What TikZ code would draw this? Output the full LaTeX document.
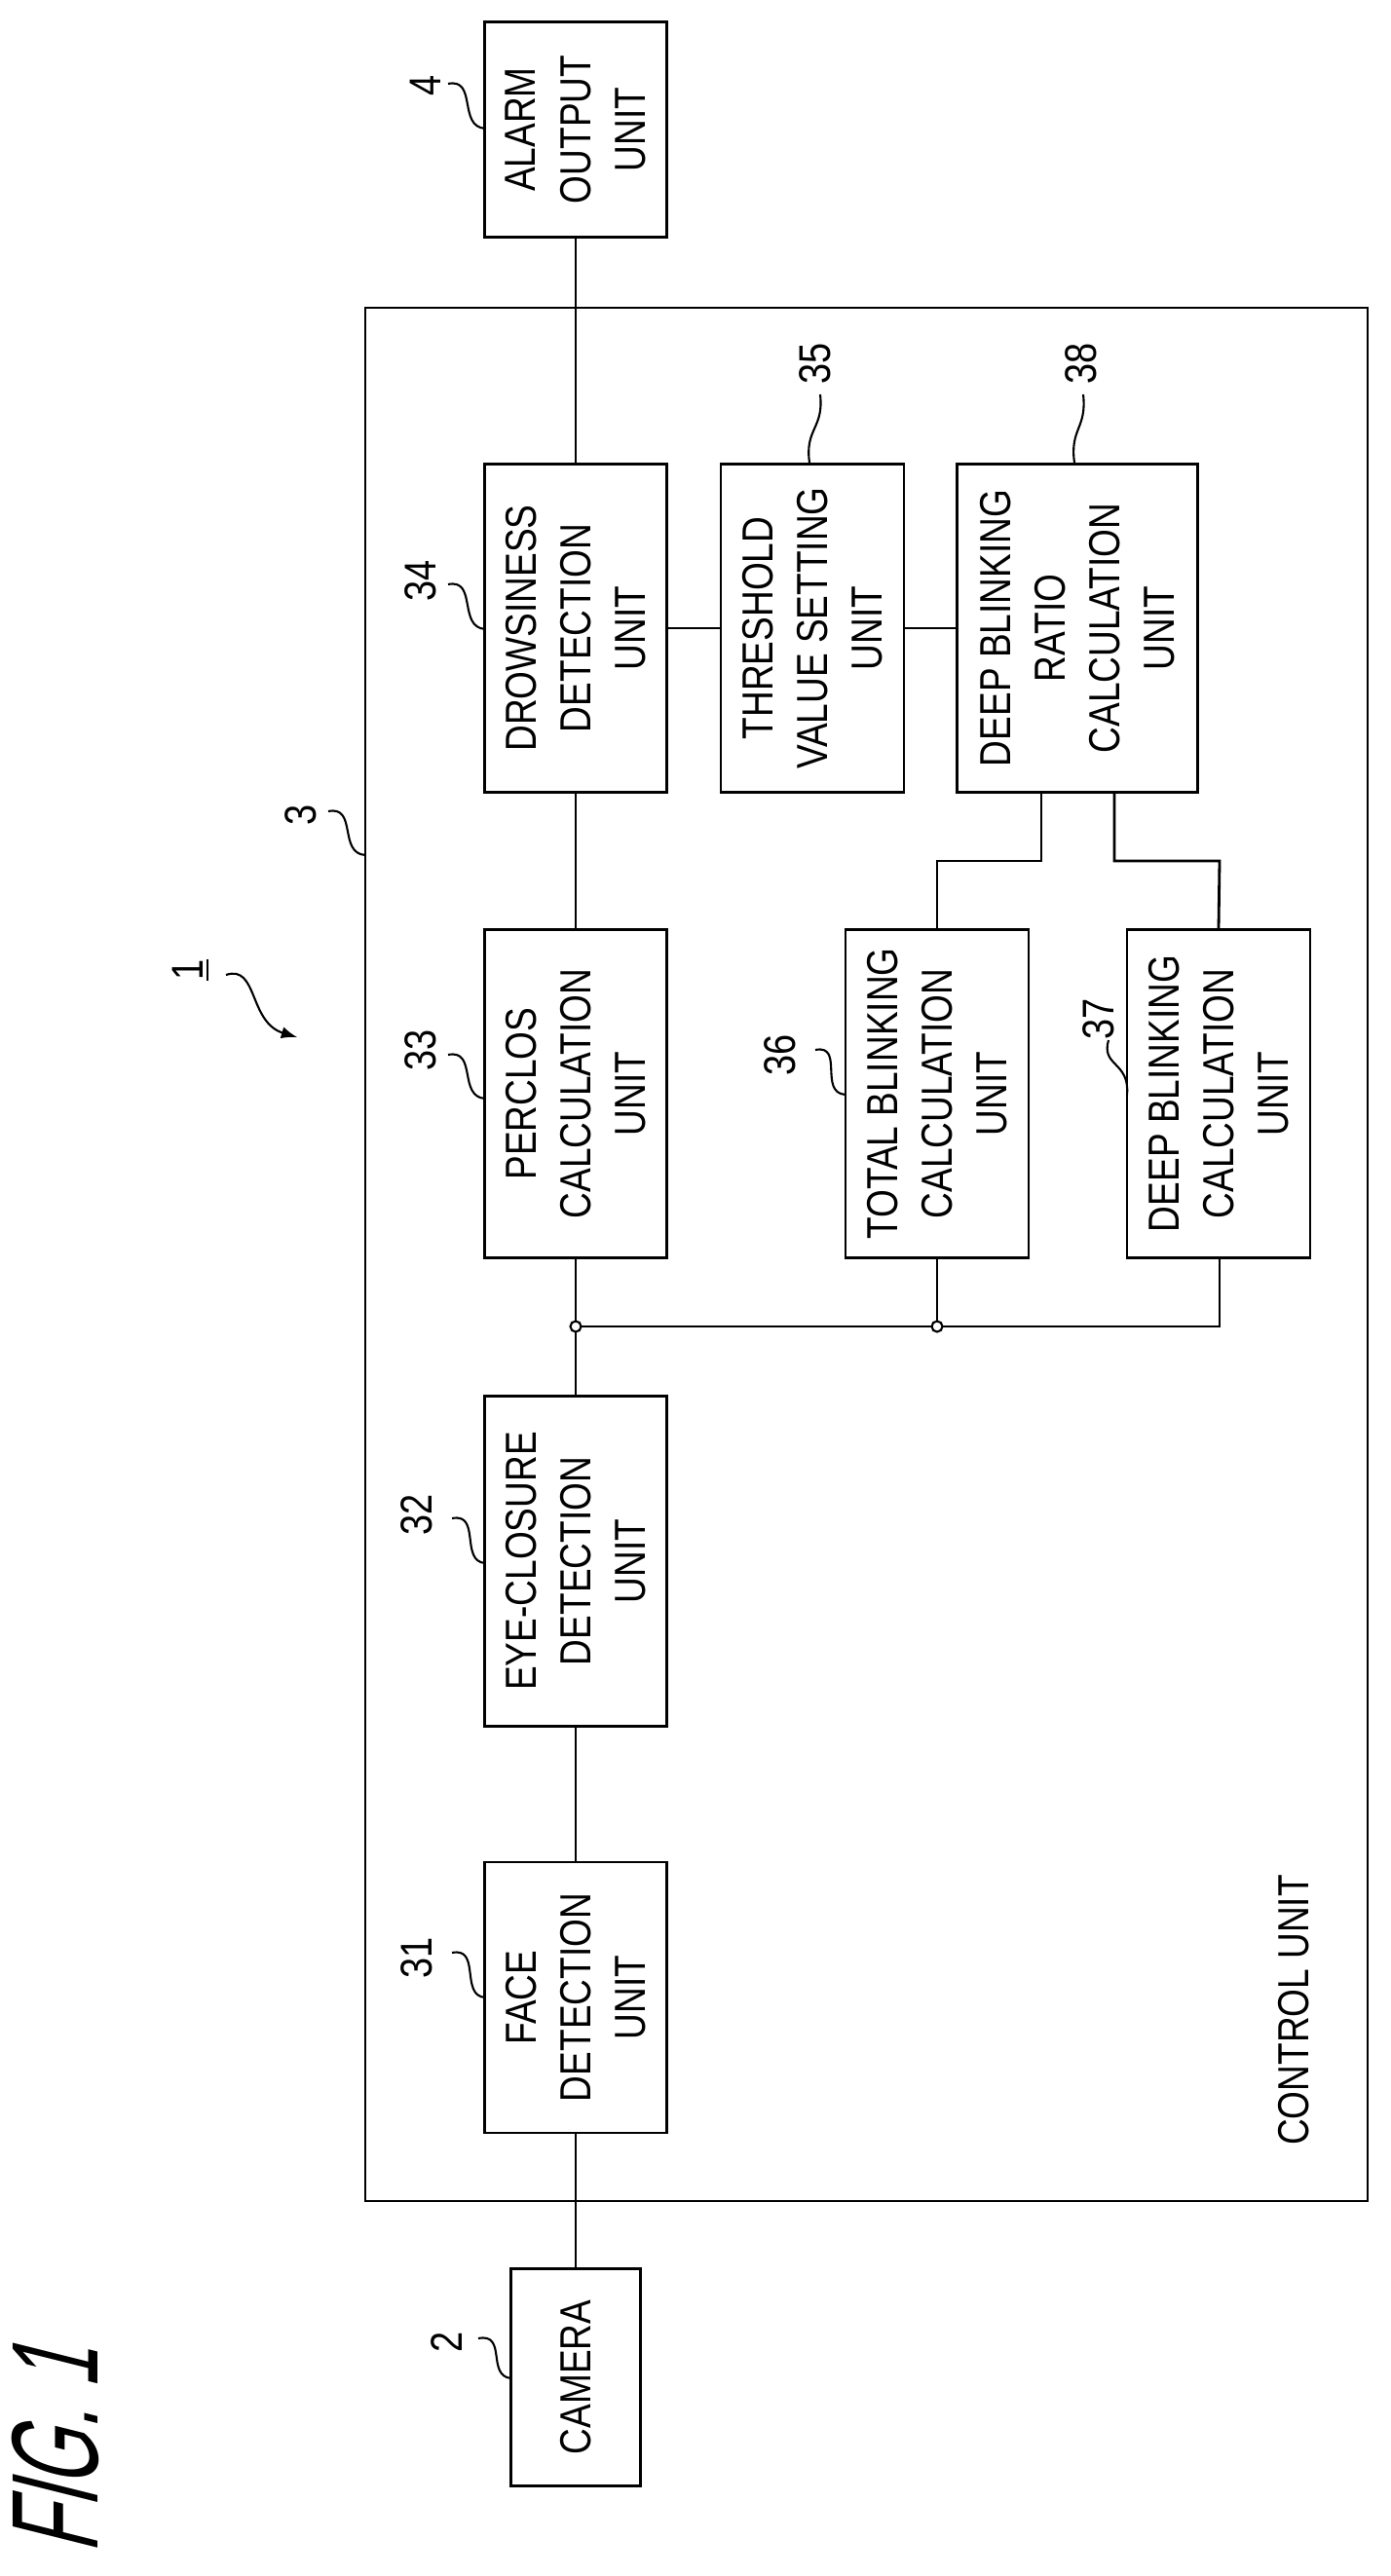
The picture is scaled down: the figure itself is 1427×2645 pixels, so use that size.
\documentclass[tikz,border=0pt]{standalone}
\usepackage{fontspec}
\setmainfont{Liberation Sans}
\newfontfamily\nar[FakeStretch=0.83]{Liberation Sans}
\newfontfamily\figf[FakeStretch=0.6,FakeSlant=0.25]{Liberation Sans}
\begin{document}
\begin{tikzpicture}[x=0.1mm,y=-0.1mm,line width=0.8pt,
  box/.style={draw,rectangle,inner sep=0pt,rotate=90,align=center,
     font=\nar\fontsize{12.7}{16}\selectfont},
  lbl/.style={rotate=90,inner sep=1pt,font=\nar\fontsize{13}{15}\selectfont},
  lead/.style={line width=0.6pt},
  dot/.style={circle,draw,fill=white,inner sep=0pt,minimum size=1.1mm,line width=0.6pt}]
\useasboundingbox (0,0) rectangle (1427,2645);
\node[draw,rectangle,minimum width=102.9mm,minimum height=194.4mm,inner sep=0pt] (cu) at (889.5,1288) {};
\node[box,minimum width=22.1mm,minimum height=18.7mm] (alarm) at (591,133) {ALARM\\OUTPUT\\UNIT};
\node[box,minimum width=33.7mm,minimum height=18.7mm] (drow) at (591,645) {DROWSINESS\\DETECTION\\UNIT};
\node[box,minimum width=33.7mm,minimum height=18.8mm] (thr) at (834,645) {THRESHOLD\\VALUE SETTING\\UNIT};
\node[box,minimum width=33.7mm,minimum height=24.7mm] (ratio) at (1106,645) {DEEP BLINKING\\RATIO\\CALCULATION\\UNIT};
\node[box,minimum width=33.7mm,minimum height=18.7mm] (perc) at (591,1123) {PERCLOS\\CALCULATION\\UNIT};
\node[box,minimum width=33.7mm,minimum height=18.8mm] (total) at (962,1123) {TOTAL BLINKING\\CALCULATION\\UNIT};
\node[box,minimum width=33.7mm,minimum height=18.8mm] (deep) at (1251,1123) {DEEP BLINKING\\CALCULATION\\UNIT};
\node[box,minimum width=33.9mm,minimum height=18.7mm] (eye) at (591,1603) {EYE-CLOSURE\\DETECTION\\UNIT};
\node[box,minimum width=27.8mm,minimum height=18.7mm] (face) at (591,2051) {FACE\\DETECTION\\UNIT};
\node[box,minimum width=22.3mm,minimum height=13.3mm] (cam) at (591,2441) {CAMERA};
\node[rotate=90,font=\nar\fontsize{12.7}{16}\selectfont] (cutxt) at (1328,2064) {CONTROL UNIT};
\node[rotate=90,font=\figf\fontsize{36}{40}\selectfont] (fig) at (57,2517) {FIG. 1};
% connectors
\draw (cam.east) -- (face.west);
\draw (face.east) -- (eye.west);
\draw (eye.east) -- (perc.west);
\draw (perc.east) -- (drow.west);
\draw (drow.east) -- (alarm.west);
\draw (drow.south) -- (thr.north);
\draw (thr.south) -- (ratio.north);
\coordinate (j1) at (591,1362);
\coordinate (j2) at (962,1362);
\coordinate (r1) at (1069,884);
\coordinate (r2) at (1144,884);
\draw (j1) -- (j2) -- (1252,1362) -- (deep.west -| 1252,0);
\draw (total.west) -- (j2);
\draw (ratio.west -| r1) -- (r1) -- (962,884) -- (total.east);
\draw (ratio.west -| r2) -- (r2) -- (1252,884) -- (deep.east);
\node[dot] (d1) at (j1) {};
\node[dot] (d2) at (j2) {};
% labels
\node[lbl] (l4) at (437,88) {4};
\node[lbl] (l34) at (432,596) {34};
\node[lbl] (l35) at (837,373) {35};
\node[lbl] (l38) at (1110,373) {38};
\node[lbl] (l3) at (309,837) {3};
\node[lbl] (l33) at (432,1078) {33};
\node[lbl] (l36) at (801,1083) {36};
\node[lbl] (l37) at (1128,1046) {37};
\node[lbl] (l32) at (428,1555) {32};
\node[lbl] (l31) at (428,2010) {31};
\node[lbl] (l2) at (459,2405) {2};
\node[lbl] (l1) at (196,996) {\underline{1}};
\coordinate (e4) at (498,132);
\coordinate (e34) at (498,646);
\coordinate (e33) at (498,1128);
\coordinate (e32) at (498,1605);
\coordinate (e31) at (498,2051);
\coordinate (e2) at (525,2442);
\coordinate (e3) at (375,878);
\coordinate (e36) at (868,1124);
\coordinate (e37) at (1157,1124);
\draw[lead] (460,86) .. controls (490,80) and (470,130) .. (e4);
\draw[lead] (460,600) .. controls (490,594) and (470,644) .. (e34);
\draw[lead] (460,1083) .. controls (490,1077) and (470,1126) .. (e33);
\draw[lead] (464,1559) .. controls (494,1553) and (472,1603) .. (e32);
\draw[lead] (464,2005) .. controls (494,1999) and (472,2049) .. (e31);
\draw[lead] (491,2401) .. controls (521,2395) and (499,2440) .. (e2);
\draw[lead] (337,833) .. controls (367,827) and (347,876) .. (e3);
\draw[lead] (837,1078) .. controls (867,1072) and (840,1122) .. (e36);
\draw[lead] (1138,1068) .. controls (1130,1095) and (1160,1090) .. (e37);
\draw[lead] ([xshift=-0.3mm]thr.east) .. controls (826,440) and (846,440) .. (842,405);
\draw[lead] ([xshift=-0.3mm]ratio.east) .. controls (1098,440) and (1116,440) .. (1112,405);
\draw[lead,-latex] (232,1001) .. controls (265,990) and (255,1050) .. (305,1065);
\end{tikzpicture}
\end{document}
